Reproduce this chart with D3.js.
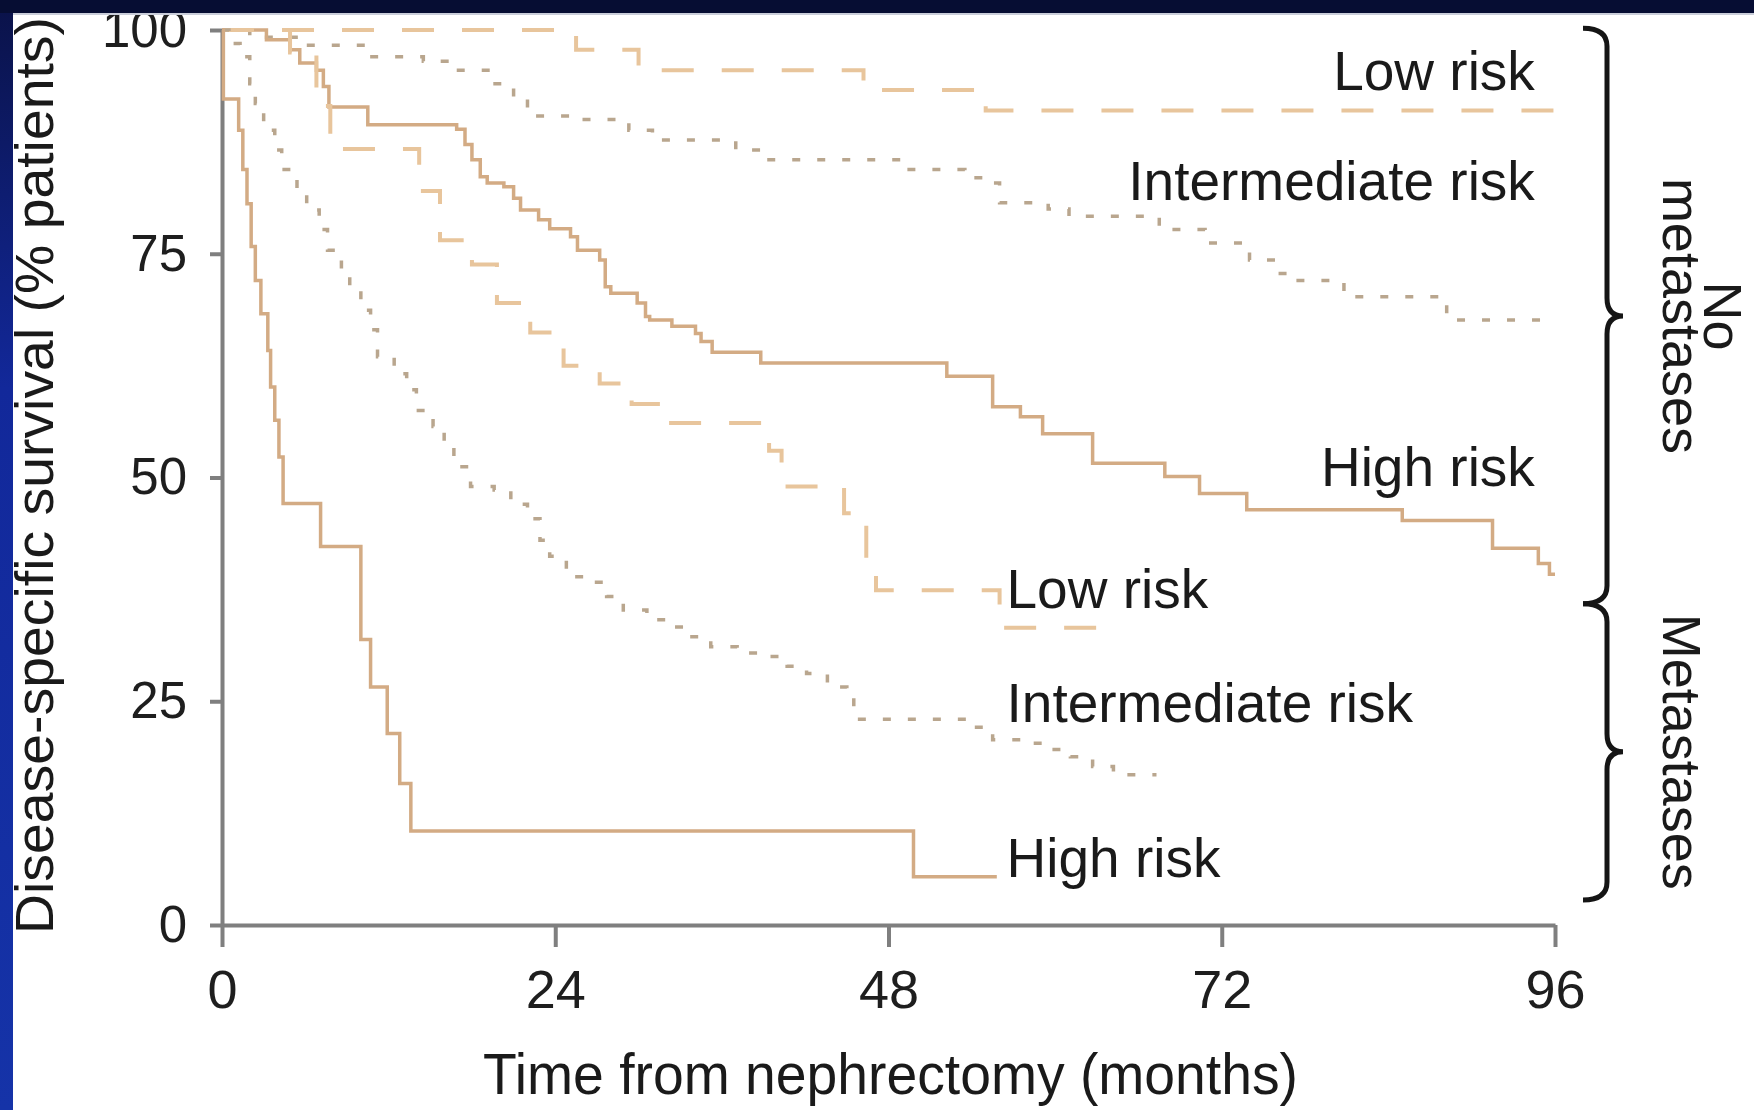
<!DOCTYPE html>
<html>
<head>
<meta charset="utf-8">
<script src="https://cdn.jsdelivr.net/npm/d3@7"></script>
<style>
body { margin: 0; background: #fff; }
svg { display: block; font-family: "Liberation Sans", Arial, Helvetica, sans-serif; }
</style>
</head>
<body>
<div id="chart"></div>
<script>
// DATA - [months, % surviving]
const ticksX = [0, 24, 48, 72, 96];
const ticksY = [0, 25, 50, 75, 100];

// no metastases
const noMetLow = [[0,100],[25.5,97.8],[30,95.5],[46.2,93.3],[55,91],[96,91]];
const noMetInt = [[0,100],[2,99.2],[6,98.3],[10.5,97],[14.5,96.5],[16.2,95.5],[19.5,94],[21,92.4],[22,90.4],[25,90],[29.3,88.8],[31,87.7],[37,86.6],[38.8,85.5],[49.2,84.4],[53.5,83.5],[55,82.9],[56,80.7],[59.5,80],[61,79.2],[67.5,77.7],[70.8,76.2],[74,74.3],[76,72.8],[77,72],[80.8,70.2],[88.2,67.6],[96,67.6]];
const noMetHigh = [[0,100],[3.2,98.9],[4.9,97.8],[5.6,96.3],[6.8,95.5],[7.3,93.7],[7.7,91.4],[10.5,89.4],[16.9,88.9],[17.5,87.2],[18,85.5],[18.6,83.6],[19.1,82.9],[20.3,82.5],[21,81.2],[21.5,79.9],[22.8,78.8],[23.6,77.8],[25.1,76.9],[25.6,75.4],[27.2,74.3],[27.6,71.3],[28,70.6],[29.9,69.5],[30.5,68],[30.8,67.6],[32.4,66.9],[34.1,66.1],[34.5,65.2],[35.3,64],[38.8,62.8],[52.2,61.3],[55.5,57.9],[57.5,56.8],[59.1,54.9],[62.7,51.6],[67.9,50.1],[70.4,48.2],[73.8,46.4],[85,45.2],[91.5,42.1],[94.8,40.4],[95.6,39.2],[96,39.2]];

// metastases
const metLow = [[0,100],[4.9,97.5],[6.8,91.5],[7.8,86.7],[14.2,82],[15.7,76.5],[18,73.8],[19.8,69.5],[22.2,66.2],[24.6,62.5],[27.2,60.5],[29.5,58.2],[31.6,56.1],[39.4,53],[40.3,49],[44.8,46],[46.4,40.8],[47.1,37.4],[56,33.2],[64.5,33.2]];
const metInt = [[0,100],[0.5,98.5],[1.3,97],[2,94],[2.4,91.8],[3,88.8],[3.8,86.6],[4.3,84.4],[5.4,82.1],[6.1,79.9],[7,77.7],[7.6,75.4],[8.6,73.2],[9.2,70.9],[10,68.7],[10.7,66.5],[11.2,63.5],[12.4,61.6],[13.3,59.8],[14,57.5],[15.2,55.7],[16,53.4],[16.7,51.2],[17.9,49],[19.6,48.6],[20.8,47],[22,45.4],[22.9,43],[23.6,41.2],[24.8,38.9],[26.5,38.3],[27.7,36.7],[28.9,35.2],[30.6,34.1],[32.3,33.3],[33.7,32.2],[35.2,31.1],[37.1,30.4],[39,30],[40.7,28.9],[42.1,28.1],[43.6,26.6],[45,25.5],[45.5,23],[54.1,22.1],[55.5,20.7],[57.5,20.3],[59.6,19.6],[61.1,18.8],[62.7,17.7],[64.2,16.8],[67.3,16.8]];
const metHigh = [[0,100],[0.1,92.3],[1.2,88.8],[1.5,84.4],[1.8,80.6],[2.1,75.8],[2.4,72],[2.8,68.3],[3.3,64.2],[3.5,60.1],[3.8,56.4],[4.1,52.3],[4.4,47.1],[7.1,42.3],[10,31.9],[10.7,26.6],[11.9,21.4],[12.8,15.8],[13.6,10.5],[49.8,5.4],[55.8,5.4]];

// labels
const riskLabels = ["Low risk", "Intermediate risk", "High risk"];
const groupLabels = [["No", "metastases"], ["Metastases"]];
const xTitle = "Time from nephrectomy (months)";
const yTitle = "Disease-specific survival (% patients)";

// SERIES + STYLES
const styles = {
    solid: {stroke: "#d3ab84", width: 3.5, dash: null},
    dash: {stroke: "#e8c59c", width: 4, dash: "32,28"},
    dot: {stroke: "#b9a68e", width: 3.5, dash: "8,17"}
};
const series = [
    {data: noMetLow, style: "dash"},
    {data: noMetInt, style: "dot"},
    {data: noMetHigh, style: "solid"},
    {data: metLow, style: "dash"},
    {data: metInt, style: "dot"},
    {data: metHigh, style: "solid"}
];

// label layout in data units (month, %)
const labelLayout = [
    {text: riskLabels[0], m: 94.55, v: 93.3, anchor: "end"},
    {text: riskLabels[1], m: 94.55, v: 81.0, anchor: "end"},
    {text: riskLabels[2], m: 94.55, v: 49.0, anchor: "end"},
    {text: riskLabels[0], m: 56.5, v: 35.4, anchor: "start"},
    {text: riskLabels[1], m: 56.5, v: 22.7, anchor: "start"},
    {text: riskLabels[2], m: 56.5, v: 5.4, anchor: "start"}
];
const braceSpans = [[100.2, 35.9], [35.9, 2.8]];

// CHART
const width = 1754;
const height = 1110;
const plotLeft = 222, plotRight = 1555, plotTop = 30, plotBottom = 925;

const svg = d3.select("#chart")
    .append("svg")
        .attr("width", width)
        .attr("height", height);

svg.append("rect").attr("width", width).attr("height", height).attr("fill", "#fff");

const x = d3.scaleLinear().domain([0, 96]).range([plotLeft, plotRight]);
const y = d3.scaleLinear().domain([0, 100]).range([plotBottom, plotTop]);

// axes
const axisColor = "#7f7f7f";
const gx = svg.append("g")
    .attr("transform", `translate(0,${plotBottom})`)
    .call(d3.axisBottom(x).tickValues(ticksX).tickSize(22).tickSizeOuter(0).tickPadding(23));
const gy = svg.append("g")
    .attr("transform", `translate(${plotLeft},0)`)
    .call(d3.axisLeft(y).tickValues(ticksY).tickSize(12).tickSizeOuter(0).tickPadding(23));

[gx, gy].forEach(g => {
    g.selectAll(".domain, .tick line")
        .attr("stroke", axisColor)
        .attr("stroke-width", 4);
    g.selectAll(".tick text")
        .attr("fill", "#1e1e1e")
        .attr("font-family", "'Liberation Sans', Arial, sans-serif");
});
gx.selectAll(".tick text").attr("font-size", 54);
gy.selectAll(".tick text").attr("font-size", 51);

// survival curves
const line = d3.line()
    .x(d => x(d[0]))
    .y(d => y(d[1]))
    .curve(d3.curveStepAfter);

svg.append("g")
    .selectAll("path")
    .data(series)
    .join("path")
        .attr("d", d => line(d.data))
        .attr("fill", "none")
        .attr("stroke", d => styles[d.style].stroke)
        .attr("stroke-width", d => styles[d.style].width)
        .attr("stroke-dasharray", d => styles[d.style].dash)
        .attr("stroke-linejoin", "miter");

// risk labels
svg.append("g")
    .selectAll("text")
    .data(labelLayout)
    .join("text")
        .attr("x", d => x(d.m))
        .attr("y", d => y(d.v))
        .attr("text-anchor", d => d.anchor)
        .attr("font-size", 55)
        .attr("fill", "#1a1a1a")
        .text(d => d.text);

// braces
function bracePath(ya, yb) {
    const x0 = 1583, xv = 1607, xp = 1623, r = 18;
    const ym = (ya + yb) / 2;
    return `M${x0},${ya} Q${xv},${ya} ${xv},${ya + r} L${xv},${ym - r} Q${xv},${ym} ${xp},${ym} ` +
        `Q${xv},${ym} ${xv},${ym + r} L${xv},${yb - r} Q${xv},${yb} ${x0},${yb}`;
}
svg.append("g")
    .selectAll("path")
    .data(braceSpans)
    .join("path")
        .attr("d", d => bracePath(y(d[0]), y(d[1])))
        .attr("fill", "none")
        .attr("stroke", "#151515")
        .attr("stroke-width", 5);

// group labels, rotated clockwise
const groupBaselines = [[1704, 1663], [1663]];
groupLabels.forEach((lines, gi) => {
    const span = braceSpans[gi];
    const cy = (y(span[0]) + y(span[1])) / 2;
    lines.forEach((t, li) => {
        svg.append("text")
            .attr("transform", `translate(${groupBaselines[gi][li]},${cy}) rotate(90)`)
            .attr("text-anchor", "middle")
            .attr("font-size", 54)
            .attr("fill", "#1a1a1a")
            .text(t);
    });
});

// axis titles
svg.append("text")
    .attr("x", (plotLeft + plotRight) / 2 + 2)
    .attr("y", 1094)
    .attr("text-anchor", "middle")
    .attr("font-size", 58)
    .attr("textLength", 815)
    .attr("lengthAdjust", "spacingAndGlyphs")
    .attr("fill", "#1a1a1a")
    .text(xTitle);

svg.append("text")
    .attr("transform", `translate(53,${(17 + 934) / 2}) rotate(-90)`)
    .attr("text-anchor", "middle")
    .attr("font-size", 54)
    .attr("textLength", 917)
    .attr("lengthAdjust", "spacingAndGlyphs")
    .attr("fill", "#1a1a1a")
    .text(yTitle);

// slide frame
const defs = svg.append("defs");
const grad = defs.append("linearGradient")
    .attr("id", "leftband")
    .attr("x1", 0).attr("y1", 0).attr("x2", 0).attr("y2", 1);
grad.append("stop").attr("offset", "0%").attr("stop-color", "#0a1248");
grad.append("stop").attr("offset", "35%").attr("stop-color", "#12289a");
grad.append("stop").attr("offset", "100%").attr("stop-color", "#1533a8");

svg.append("rect").attr("x", 0).attr("y", 0).attr("width", 13).attr("height", height).attr("fill", "url(#leftband)");
svg.append("rect").attr("x", 0).attr("y", 0).attr("width", width).attr("height", 13).attr("fill", "#060d33");
svg.append("rect").attr("x", 13).attr("y", 13).attr("width", width - 13).attr("height", 2).attr("fill", "#c9cdd9");
</script>
</body>
</html>
